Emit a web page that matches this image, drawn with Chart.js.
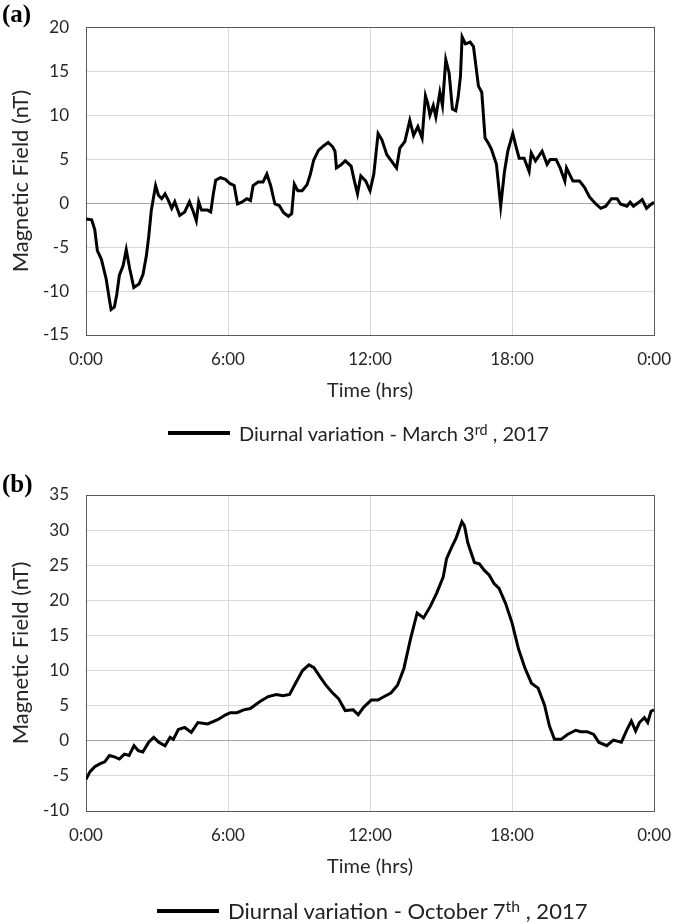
<!DOCTYPE html>
<html>
<head>
<meta charset="utf-8">
<script src="https://cdn.jsdelivr.net/npm/chart.js@4.4.1/dist/chart.umd.min.js"></script>
<style>
  html, body { margin:0; padding:0; background:#fff; overflow:hidden; }
  #wrap { position:relative; width:685px; height:924px; }
  canvas { position:absolute; left:0; }
  .panel { position:absolute; left:2px; font-family:"Liberation Serif", "Times New Roman", serif; font-weight:bold; font-size:25px; color:#000; }
  .legend { position:absolute; display:flex; align-items:center; font-family:Lato, "Open Sans", sans-serif; color:#222; white-space:nowrap; }
  .legend .swatch { width:62px; height:4px; background:#000; margin-right:9px; }
  .legend sup { font-size:0.72em; vertical-align:0; position:relative; top:-0.45em; }
</style>
</head>
<body>
<div id="wrap">
  <canvas id="chartA" width="685" height="462" style="top:0"></canvas>
  <canvas id="chartB" width="685" height="462" style="top:462px"></canvas>
  <div class="panel" style="top:0px">(a)</div>
  <div class="panel" style="top:470px">(b)</div>
  <div class="legend" style="left:168px; top:421px; font-size:20px"><span class="swatch"></span><span>Diurnal variation - March 3<sup>rd</sup> , 2017</span></div>
  <div class="legend" style="left:157px; top:897px; font-size:22px"><span class="swatch"></span><span>Diurnal variation - October 7<sup>th</sup> , 2017</span></div>
</div>
<script>
const tickLabels = ['0:00', '6:00', '12:00', '18:00', '0:00'];

const hoursA = [0,0.24,0.37,0.48,0.65,0.85,0.99,1.06,1.2,1.3,1.41,1.57,1.7,1.85,2.02,2.24,2.41,2.55,2.65,2.76,2.94,3.06,3.2,3.34,3.48,3.62,3.75,3.96,4.17,4.37,4.51,4.66,4.76,4.88,5.13,5.27,5.38,5.48,5.68,5.89,6.09,6.26,6.4,6.58,6.79,6.95,7.06,7.27,7.48,7.64,7.8,7.98,8.17,8.35,8.55,8.69,8.8,8.95,9.13,9.34,9.48,9.62,9.82,10.03,10.23,10.42,10.52,10.58,10.75,10.95,11.2,11.34,11.47,11.61,11.82,12.0,12.16,12.34,12.5,12.71,12.9,13.12,13.26,13.47,13.68,13.84,14.02,14.2,14.34,14.44,14.53,14.67,14.78,14.95,15.06,15.2,15.34,15.48,15.62,15.72,15.82,15.89,16.03,16.23,16.37,16.58,16.72,16.86,17.0,17.13,17.34,17.52,17.68,17.82,18.03,18.17,18.3,18.51,18.72,18.81,18.99,19.27,19.48,19.61,19.86,20.03,20.23,20.3,20.57,20.85,21.06,21.27,21.54,21.75,21.96,22.2,22.44,22.58,22.85,22.99,23.13,23.31,23.5,23.68,23.82,24.0];
const fieldA = [-1.8,-1.9,-3.0,-5.4,-6.4,-8.6,-11.0,-12.1,-11.8,-10.4,-8.2,-7.1,-5.3,-7.5,-9.6,-9.2,-8.1,-6.0,-3.8,-0.8,2.0,0.9,0.5,1.05,0.3,-0.6,0.15,-1.4,-1.0,0.15,-0.8,-2.0,0.15,-0.8,-0.8,-1.0,1.05,2.6,2.9,2.7,2.2,2.0,-0.1,0.1,0.5,0.3,2.0,2.4,2.4,3.3,2.0,-0.1,-0.3,-1.1,-1.5,-1.2,2.15,1.4,1.4,2.1,3.3,4.9,6.0,6.5,6.9,6.4,5.9,4.0,4.3,4.8,4.2,2.5,1.05,3.1,2.5,1.4,3.3,7.9,7.2,5.5,4.8,4.0,6.25,7.0,9.4,7.7,8.7,7.4,12.2,11.3,10.0,11.1,9.8,12.6,11.1,16.3,14.8,10.7,10.5,12.0,14.4,18.9,18.1,18.3,17.8,13.3,12.6,7.4,6.8,6.1,4.4,-0.35,3.6,5.9,7.9,6.4,5.1,5.1,3.6,5.7,4.8,5.9,4.4,4.95,4.95,4.0,2.5,4.0,2.5,2.5,1.8,0.7,-0.1,-0.6,-0.35,0.5,0.5,-0.1,-0.35,0.1,-0.35,0.0,0.4,-0.6,-0.25,0.1];

const hoursB = [0,0.17,0.37,0.58,0.79,0.99,1.2,1.41,1.62,1.82,2.03,2.21,2.4,2.65,2.86,3.07,3.34,3.55,3.69,3.9,4.17,4.45,4.73,5.14,5.56,5.9,6.1,6.38,6.66,6.94,7.35,7.7,8.04,8.32,8.6,8.87,9.15,9.42,9.63,9.91,10.12,10.39,10.67,10.95,11.29,11.5,11.71,12.05,12.33,12.6,12.88,13.16,13.43,13.71,13.99,14.26,14.54,14.81,15.09,15.23,15.44,15.64,15.88,15.99,16.13,16.41,16.62,16.82,17.03,17.24,17.45,17.72,18.0,18.27,18.55,18.82,19.1,19.37,19.58,19.79,20.07,20.34,20.69,20.9,21.17,21.45,21.66,22.0,22.28,22.62,22.83,23.04,23.22,23.38,23.59,23.73,23.87,24.0];
const fieldB = [-5.5,-4.4,-3.7,-3.3,-3.0,-2.1,-2.3,-2.6,-1.9,-2.1,-0.7,-1.4,-1.6,-0.2,0.5,-0.2,-0.7,0.5,0.2,1.6,1.9,1.2,2.6,2.4,3.0,3.7,4.0,4.0,4.4,4.6,5.6,6.3,6.6,6.4,6.6,8.3,10.0,10.8,10.4,9.0,8.0,6.9,6.0,4.3,4.4,3.7,4.7,5.8,5.8,6.3,6.8,7.9,10.3,14.5,18.2,17.5,19.1,21.0,23.3,25.9,27.5,28.9,31.2,30.6,28.2,25.4,25.2,24.3,23.6,22.4,21.7,19.6,16.8,13.1,10.3,8.2,7.5,5.1,2.1,0.2,0.2,0.9,1.5,1.3,1.3,0.9,-0.2,-0.7,0.1,-0.2,1.4,2.8,1.4,2.6,3.3,2.6,4.2,4.4];

const yTicksA = [-15, 20];
const yTicksB = [-10, 35];

const FONT = 'Lato, "Open Sans", sans-serif';

const framePlugin = {
  id: 'frame',
  beforeDatasetsDraw(chart) {
    const {ctx, chartArea: a} = chart;
    ctx.save();
    ctx.strokeStyle = '#595959';
    ctx.lineWidth = 1;
    ctx.strokeRect(Math.round(a.left) + 0.5, Math.round(a.top) + 0.5, Math.round(a.right - a.left), Math.round(a.bottom - a.top));
    ctx.restore();
  }
};

function makeChart(id, hours, field, yRange, padTop, padBottom) {
  return new Chart(document.getElementById(id), {
    type: 'line',
    data: {
      datasets: [{
        data: hours.map((h, i) => ({x: h, y: field[i]})),
        borderColor: '#000',
        borderWidth: 3,
        pointRadius: 0,
        tension: 0,
        fill: false
      }]
    },
    options: {
      responsive: false,
      animation: false,
      layout: { padding: { top: padTop, right: 19, bottom: padBottom, left: 0 } },
      plugins: { legend: { display: false }, tooltip: { enabled: false } },
      scales: {
        x: {
          type: 'linear',
          min: 0, max: 24,
          afterFit(s) { s.height = 70; },
          afterBuildTicks(s) { s.ticks = tickLabels.map((_, i) => ({value: i * 6})); },
          grid: { color: '#d9d9d9', lineWidth: 1, drawTicks: false },
          border: { display: false },
          ticks: {
            padding: 14,
            color: '#262626',
            font: { family: FONT, size: 17 },
            callback: (v) => tickLabels[Math.round(v / 6)],
            maxRotation: 0, autoSkip: false
          },
          title: {
            display: true, text: 'Time (hrs)', color: '#262626',
            font: { family: FONT, size: 20 }, padding: { top: 0, bottom: 2 }
          }
        },
        y: {
          min: yRange[0], max: yRange[1],
          afterFit(s) { s.width = 86; },
          grid: {
            color: (c) => (c.tick && c.tick.value === 0) ? '#a6a6a6' : '#d9d9d9',
            lineWidth: 1, drawTicks: false
          },
          border: { display: false },
          ticks: {
            stepSize: 5, padding: 17, color: '#262626',
            font: { family: FONT, size: 17 }
          },
          title: {
            display: true, text: 'Magnetic Field (nT)', color: '#262626',
            font: { family: FONT, size: 22 }, padding: { top: 8, bottom: 0 }
          }
        }
      }
    },
    plugins: [framePlugin]
  });
}

makeChart('chartA', hoursA, fieldA, yTicksA, 20, 57);
makeChart('chartB', hoursB, fieldB, yTicksB, 33, 43);
</script>
</body>
</html>
